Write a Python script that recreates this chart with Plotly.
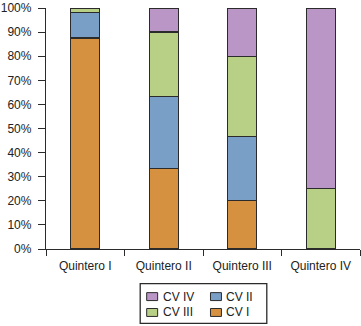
import plotly.graph_objects as go

categories = ["Quintero I", "Quintero II", "Quintero III", "Quintero IV"]
series_names = ["CV I", "CV II", "CV III", "CV IV"]
cv1 = [87.5, 33.3, 20.0, 0.0]
cv2 = [10.5, 30.0, 26.7, 0.0]
cv3 = [2.0, 26.7, 33.3, 25.0]
cv4 = [0.0, 10.0, 20.0, 75.0]
series_values = [cv1, cv2, cv3, cv4]
colors = ["#D5913F", "#7A9FC7", "#B8CF86", "#BA96C6"]
y_ticks = [0, 10, 20, 30, 40, 50, 60, 70, 80, 90, 100]

W, H = 361, 326
L, R, T, B = 45, 1, 6, 77
PW, PH = W - L - R, H - T - B
EDGE = "#2b2b2b"
FONT = "Liberation Sans, Arial, sans-serif"

fig = go.Figure()
for name, vals, col in zip(series_names, series_values, colors):
    fig.add_trace(go.Bar(
        x=categories, y=[v if v > 0 else None for v in vals], name=name, width=0.37,
        marker=dict(color=col, line=dict(color=EDGE, width=1.3)),
        showlegend=False,
    ))

def px_x(p):
    return (p - L) / PW

def px_y(p):
    return (H - B - p) / PH

# legend (two columns): CV IV, CV II / CV III, CV I
legend_layout = [("CV IV", 146, 297), ("CV II", 210, 297), ("CV III", 146, 313), ("CV I", 210, 313)]
shapes = [dict(type="rect", xref="paper", yref="paper",
               x0=px_x(139.5), x1=px_x(266.5), y0=px_y(284), y1=px_y(324),
               line=dict(color=EDGE, width=1.3), fillcolor="rgba(0,0,0,0)")]
annotations = []
for name, sx, sy in legend_layout:
    col = colors[series_names.index(name)]
    shapes.append(dict(type="rect", xref="paper", yref="paper",
                       x0=px_x(sx), x1=px_x(sx + 11), y0=px_y(sy - 4), y1=px_y(sy + 4),
                       line=dict(color=EDGE, width=1), fillcolor=col))
    annotations.append(dict(xref="paper", yref="paper", x=px_x(sx + 14), y=px_y(sy),
                            xanchor="left", yanchor="middle", text=name, showarrow=False,
                            font=dict(family=FONT, size=12, color="#222")))

fig.update_layout(
    width=W, height=H, barmode="stack",
    margin=dict(l=L, r=R, t=T, b=B, pad=0),
    paper_bgcolor="white", plot_bgcolor="white",
    font=dict(family=FONT, size=12, color="#222"),
    shapes=shapes, annotations=annotations,
)
fig.update_xaxes(
    type="category", range=[-0.5, 3.5], showgrid=False, zeroline=False,
    showline=True, linecolor=EDGE, linewidth=1.3,
    ticks="outside", tickson="boundaries", ticklen=6, tickcolor=EDGE, tickwidth=1.3,
    ticklabelstandoff=5,
    tickfont=dict(family=FONT, size=12, color="#222"),
)
fig.update_yaxes(
    range=[0, 100], tickvals=y_ticks, ticktext=[f"{v}%" for v in y_ticks],
    showgrid=False, zeroline=False, showline=True, linecolor=EDGE, linewidth=1.3,
    ticks="outside", ticklen=7, tickcolor=EDGE, tickwidth=1.3,
    ticklabelstandoff=4, ticklabeloverflow="allow",
    tickfont=dict(family=FONT, size=12, color="#222"),
)

fig.write_html("out.html")
